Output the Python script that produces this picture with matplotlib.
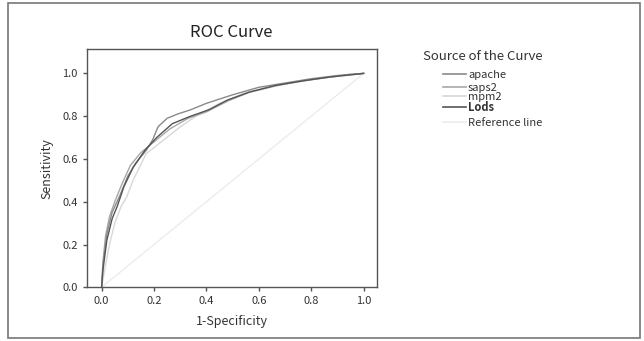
import matplotlib
matplotlib.use("Agg")
import matplotlib.pyplot as plt
from matplotlib.lines import Line2D
from matplotlib.patches import Rectangle

plt.rcParams['font.family'] = ['Noto Sans CJK KR', 'DejaVu Sans']

# ROC curves (1-specificity, sensitivity)
fpr_apache = [0, 0.005, 0.02, 0.04, 0.07, 0.10, 0.13, 0.17, 0.195, 0.215, 0.25, 0.29, 0.34, 0.40, 0.50, 0.60, 0.70, 0.80, 0.90, 1.0]
tpr_apache = [0, 0.10, 0.25, 0.35, 0.43, 0.52, 0.58, 0.64, 0.69, 0.75, 0.79, 0.81, 0.83, 0.86, 0.90, 0.935, 0.955, 0.975, 0.99, 1.0]

fpr_saps2 = [0, 0.005, 0.015, 0.03, 0.05, 0.08, 0.11, 0.15, 0.20, 0.26, 0.33, 0.40, 0.48, 0.56, 0.66, 0.76, 0.86, 0.94, 1.0]
tpr_saps2 = [0, 0.12, 0.24, 0.33, 0.40, 0.49, 0.57, 0.63, 0.68, 0.74, 0.79, 0.82, 0.87, 0.91, 0.94, 0.965, 0.98, 0.995, 1.0]

fpr_mpm2 = [0, 0.01, 0.03, 0.05, 0.075, 0.095, 0.12, 0.17, 0.235, 0.30, 0.36, 0.45, 0.55, 0.65, 0.75, 0.85, 0.93, 1.0]
tpr_mpm2 = [0, 0.07, 0.20, 0.30, 0.38, 0.42, 0.50, 0.625, 0.687, 0.75, 0.80, 0.86, 0.91, 0.94, 0.96, 0.98, 0.99, 1.0]

fpr_lods = [0, 0.005, 0.02, 0.04, 0.06, 0.085, 0.12, 0.165, 0.21, 0.27, 0.34, 0.41, 0.48, 0.565, 0.665, 0.78, 0.87, 0.95, 1.0]
tpr_lods = [0, 0.08, 0.22, 0.32, 0.38, 0.47, 0.56, 0.64, 0.70, 0.765, 0.80, 0.83, 0.875, 0.913, 0.944, 0.967, 0.983, 0.993, 1.0]

ref_line = [0, 1]

series_names = ['apache', 'saps2', 'mpm2', 'Lods', 'Reference line']
series_colors = ['#8a8a8a', '#a8a8a8', '#d8d8d8', '#555555', '#ececec']
ticks = [0.0, 0.2, 0.4, 0.6, 0.8, 1.0]

fig = plt.figure(figsize=(6.44, 3.41), dpi=100)
ax = fig.add_axes([0.1346, 0.1575, 0.4504, 0.6988])

ax.plot(ref_line, ref_line, color=series_colors[4], lw=1.0)
ax.plot(fpr_mpm2, tpr_mpm2, color=series_colors[2], lw=1.0)
ax.plot(fpr_saps2, tpr_saps2, color=series_colors[1], lw=1.0)
ax.plot(fpr_apache, tpr_apache, color=series_colors[0], lw=1.0)
ax.plot(fpr_lods, tpr_lods, color=series_colors[3], lw=1.0)

ax.set_xlim(-0.057, 1.05)
ax.set_ylim(0, 1.114)
ax.set_xticks(ticks)
ax.set_yticks(ticks)
ax.set_xticklabels([f'{t:.1f}' for t in ticks])
ax.set_yticklabels([f'{t:.1f}' for t in ticks])
ax.tick_params(direction='out', length=3, width=1, color='#555555',
               labelsize=8, labelcolor='#333333')
for s in ax.spines.values():
    s.set_color('#555555')
    s.set_linewidth(1.0)

ax.set_xlabel('1-Specificity', fontsize=9, color='#333333', labelpad=6)
ax.set_ylabel('Sensitivity', fontsize=9, color='#333333', labelpad=6)
ax.set_title('ROC Curve', fontsize=12, color='#222222', pad=9)

# legend drawn by hand to keep SPSS spacing
fig.text(423 / 644, 1 - 57 / 341, 'Source of the Curve', fontsize=9.5,
         color='#333333', va='center', ha='left')
leg_y = [75, 88, 97, 108, 123]
for name, col, y in zip(series_names, series_colors, leg_y):
    yy = 1 - y / 341
    fig.add_artist(Line2D([443 / 644, 466 / 644], [yy + 0.004, yy + 0.004],
                          color=col, lw=1.2, transform=fig.transFigure))
    fig.text(468 / 644, yy, name, fontsize=8, color='#333333', va='center',
             ha='left', fontweight='bold' if name == 'Lods' else 'normal')

fig.add_artist(Rectangle((8 / 644, 3 / 341), 632 / 644, 335 / 341, fill=False,
                         edgecolor='#777777', lw=1.2, transform=fig.transFigure))

fig.savefig('out.png', dpi=100)
